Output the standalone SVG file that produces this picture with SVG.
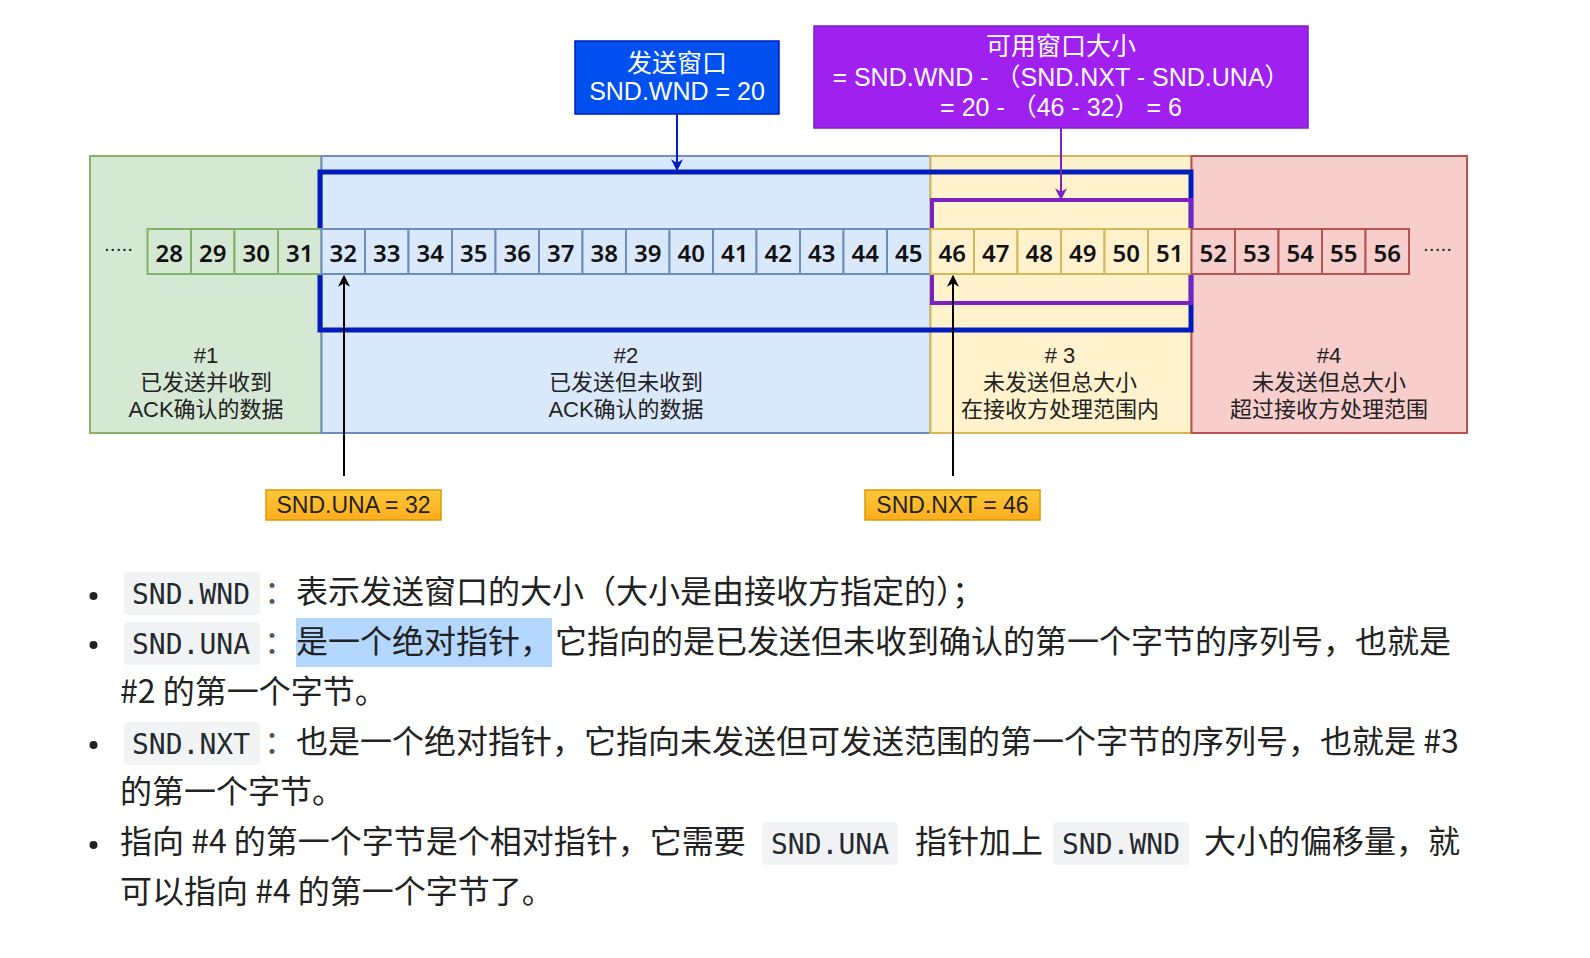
<svg xmlns="http://www.w3.org/2000/svg" width="1590" height="958" viewBox="0 0 1590 958">
<style>
.d{font-family:"Liberation Sans","Noto Sans CJK SC",sans-serif;}
.reg{font-size:22px;fill:#222;text-anchor:middle;}
.top{font-size:25px;fill:#fff;text-anchor:middle;}
.num{font-family:"Noto Sans",sans-serif;font-size:24px;font-weight:600;fill:#111;text-anchor:middle;}
.g{fill:#d5e8d4;stroke:#82b366;stroke-width:2;}
.b{fill:#dae8fc;stroke:#6c8ebf;stroke-width:2;}
.y{fill:#fff2cc;stroke:#d6b656;stroke-width:2;}
.r{fill:#f8cecc;stroke:#b85450;stroke-width:2;}
.lbl{fill:url(#og);stroke:#d79b00;stroke-width:1.5;}
.lt{font-size:23px;fill:#222;text-anchor:middle;}
.body{font-family:"Noto Sans CJK SC","Noto Sans",sans-serif;font-size:32px;fill:#222;}
.colon{font-family:"Noto Sans CJK SC",sans-serif;font-size:32px;fill:#555;}
.code{font-family:"DejaVu Sans Mono","Liberation Mono",monospace;font-size:28px;fill:#24292f;}
.chip{fill:#f2f3f5;}
.bul{fill:#222;}
.dots{font-family:"Liberation Sans",sans-serif;font-size:21px;fill:#222;}
</style>
<defs>
<linearGradient id="og" x1="0" y1="0" x2="0" y2="1"><stop offset="0" stop-color="#ffc83a"/><stop offset="1" stop-color="#ffac1c"/></linearGradient>
<marker id="ak" viewBox="0 0 10 10" refX="9" refY="5" markerWidth="6" markerHeight="6" orient="auto"><path d="M0,0 L10,5 L0,10 L3,5 z" fill="#000"/></marker>
<marker id="ab" viewBox="0 0 10 10" refX="9" refY="5" markerWidth="6" markerHeight="6" orient="auto"><path d="M0,0 L10,5 L0,10 L3,5 z" fill="#001dbc"/></marker>
<marker id="ap" viewBox="0 0 10 10" refX="9" refY="5" markerWidth="6" markerHeight="6" orient="auto"><path d="M0,0 L10,5 L0,10 L3,5 z" fill="#7a22c2"/></marker>
</defs>
<rect width="1590" height="958" fill="#fff"/>

<g id="region1" class="d"><rect class="g" x="90" y="156" width="231.5" height="277"/>
<text class="reg" x="206" y="363">#1</text><text class="reg" x="206" y="390">已发送并收到</text><text class="reg" x="206" y="417">ACK确认的数据</text></g>
<g id="region2" class="d"><rect class="b" x="321.5" y="156" width="609" height="277"/>
<text class="reg" x="626" y="363">#2</text><text class="reg" x="626" y="390">已发送但未收到</text><text class="reg" x="626" y="417">ACK确认的数据</text></g>
<g id="region3" class="d"><rect class="y" x="930.5" y="156" width="261" height="277"/>
<text class="reg" x="1060" y="363"># 3</text><text class="reg" x="1060" y="390">未发送但总大小</text><text class="reg" x="1060" y="417">在接收方处理范围内</text></g>
<g id="region4" class="d"><rect class="r" x="1191.5" y="156" width="275.5" height="277"/>
<text class="reg" x="1329" y="363">#4</text><text class="reg" x="1329" y="390">未发送但总大小</text><text class="reg" x="1329" y="417">超过接收方处理范围</text></g>

<g id="send-window"><rect x="320" y="172" width="871" height="158" fill="none" stroke="#001dbc" stroke-width="5"/></g>
<g id="usable-window"><rect x="932" y="200" width="259" height="103" fill="none" stroke="#7a22c2" stroke-width="4"/></g>

<g id="cells">
<g id="c28"><rect class="g" x="147.5" y="229" width="43.5" height="45"/><text class="num" x="169.25" y="262">28</text></g>
<g id="c29"><rect class="g" x="191" y="229" width="43.5" height="45"/><text class="num" x="212.75" y="262">29</text></g>
<g id="c30"><rect class="g" x="234.5" y="229" width="43.5" height="45"/><text class="num" x="256.25" y="262">30</text></g>
<g id="c31"><rect class="g" x="278" y="229" width="43.5" height="45"/><text class="num" x="299.75" y="262">31</text></g>
<g id="c32"><rect class="b" x="321.5" y="229" width="43.5" height="45"/><text class="num" x="343.25" y="262">32</text></g>
<g id="c33"><rect class="b" x="365" y="229" width="43.5" height="45"/><text class="num" x="386.75" y="262">33</text></g>
<g id="c34"><rect class="b" x="408.5" y="229" width="43.5" height="45"/><text class="num" x="430.25" y="262">34</text></g>
<g id="c35"><rect class="b" x="452" y="229" width="43.5" height="45"/><text class="num" x="473.75" y="262">35</text></g>
<g id="c36"><rect class="b" x="495.5" y="229" width="43.5" height="45"/><text class="num" x="517.25" y="262">36</text></g>
<g id="c37"><rect class="b" x="539" y="229" width="43.5" height="45"/><text class="num" x="560.75" y="262">37</text></g>
<g id="c38"><rect class="b" x="582.5" y="229" width="43.5" height="45"/><text class="num" x="604.25" y="262">38</text></g>
<g id="c39"><rect class="b" x="626" y="229" width="43.5" height="45"/><text class="num" x="647.75" y="262">39</text></g>
<g id="c40"><rect class="b" x="669.5" y="229" width="43.5" height="45"/><text class="num" x="691.25" y="262">40</text></g>
<g id="c41"><rect class="b" x="713" y="229" width="43.5" height="45"/><text class="num" x="734.75" y="262">41</text></g>
<g id="c42"><rect class="b" x="756.5" y="229" width="43.5" height="45"/><text class="num" x="778.25" y="262">42</text></g>
<g id="c43"><rect class="b" x="800" y="229" width="43.5" height="45"/><text class="num" x="821.75" y="262">43</text></g>
<g id="c44"><rect class="b" x="843.5" y="229" width="43.5" height="45"/><text class="num" x="865.25" y="262">44</text></g>
<g id="c45"><rect class="b" x="887" y="229" width="43.5" height="45"/><text class="num" x="908.75" y="262">45</text></g>
<g id="c46"><rect class="y" x="930.5" y="229" width="43.5" height="45"/><text class="num" x="952.25" y="262">46</text></g>
<g id="c47"><rect class="y" x="974" y="229" width="43.5" height="45"/><text class="num" x="995.75" y="262">47</text></g>
<g id="c48"><rect class="y" x="1017.5" y="229" width="43.5" height="45"/><text class="num" x="1039.25" y="262">48</text></g>
<g id="c49"><rect class="y" x="1061" y="229" width="43.5" height="45"/><text class="num" x="1082.75" y="262">49</text></g>
<g id="c50"><rect class="y" x="1104.5" y="229" width="43.5" height="45"/><text class="num" x="1126.25" y="262">50</text></g>
<g id="c51"><rect class="y" x="1148" y="229" width="43.5" height="45"/><text class="num" x="1169.75" y="262">51</text></g>
<g id="c52"><rect class="r" x="1191.5" y="229" width="43.5" height="45"/><text class="num" x="1213.25" y="262">52</text></g>
<g id="c53"><rect class="r" x="1235" y="229" width="43.5" height="45"/><text class="num" x="1256.75" y="262">53</text></g>
<g id="c54"><rect class="r" x="1278.5" y="229" width="43.5" height="45"/><text class="num" x="1300.25" y="262">54</text></g>
<g id="c55"><rect class="r" x="1322" y="229" width="43.5" height="45"/><text class="num" x="1343.75" y="262">55</text></g>
<g id="c56"><rect class="r" x="1365.5" y="229" width="43.5" height="45"/><text class="num" x="1387.25" y="262">56</text></g>
</g>
<g id="dots-left"><text class="dots" x="104" y="251">.....</text></g>
<g id="dots-right"><text class="dots" x="1423" y="251">.....</text></g>

<g id="box-wnd" class="d"><rect x="575" y="41" width="204" height="73" fill="#0050ef" stroke="#001dbc" stroke-width="1.5"/>
<text class="top" x="677" y="72">发送窗口</text><text class="top" x="677" y="100">SND.WND = 20</text></g>
<g id="box-usable" class="d"><rect x="814" y="26" width="494" height="102" fill="#a020f0" stroke="#7a22c2" stroke-width="1.5"/>
<text class="top" x="1061" y="55">可用窗口大小</text><text class="top" x="1061" y="86">= SND.WND - （SND.NXT - SND.UNA）</text><text class="top" x="1061" y="116">= 20 - （46 - 32）  = 6</text></g>
<g id="label-una" class="d"><rect class="lbl" x="266" y="490" width="175" height="30"/><text class="lt" x="353.5" y="513">SND.UNA = 32</text></g>
<g id="label-nxt" class="d"><rect class="lbl" x="865" y="490" width="175" height="30"/><text class="lt" x="952.5" y="513">SND.NXT = 46</text></g>

<g id="connectors" fill="none" stroke-width="2">
<line x1="677" y1="114" x2="677" y2="170" stroke="#001dbc" marker-end="url(#ab)"/>
<line x1="1061" y1="128" x2="1061" y2="199" stroke="#7a22c2" marker-end="url(#ap)"/>
<line x1="344" y1="476" x2="344" y2="276" stroke="#000" marker-end="url(#ak)"/>
<line x1="953" y1="476" x2="953" y2="276" stroke="#000" marker-end="url(#ak)"/>
</g>

<g id="notes">
<rect x="296" y="618" width="256" height="49" fill="#b3d7ff"/>
<rect class="chip" x="124" y="572" width="136" height="43" rx="4"/>
<rect class="chip" x="124" y="622" width="136" height="43" rx="4"/>
<rect class="chip" x="124" y="722" width="136" height="43" rx="4"/>
<rect class="chip" x="762" y="822" width="136" height="43" rx="4"/>
<rect class="chip" x="1053" y="822" width="136" height="43" rx="4"/>
<circle class="bul" cx="93.5" cy="596" r="4"/>
<circle class="bul" cx="93.5" cy="645" r="4"/>
<circle class="bul" cx="93.5" cy="745" r="4"/>
<circle class="bul" cx="93.5" cy="845" r="4"/>
<text class="code" x="132" y="604">SND.WND</text>
<text class="code" x="132" y="654">SND.UNA</text>
<text class="code" x="132" y="754">SND.NXT</text>
<text class="code" x="771" y="854">SND.UNA</text>
<text class="code" x="1062" y="854">SND.WND</text>
<text class="colon" x="264" y="603">：</text>
<text class="colon" x="264" y="653">：</text>
<text class="colon" x="264" y="753">：</text>
<text class="body" x="296" y="603">表示发送窗口的大小（大小是由接收方指定的）；</text>
<text class="body" x="296" y="653">是一个绝对指针，</text>
<text class="body" x="555" y="653">它指向的是已发送但未收到确认的第一个字节的序列号，也就是</text>
<text class="body" x="120" y="703">#2 的第一个字节。</text>
<text class="body" x="296" y="753">也是一个绝对指针，它指向未发送但可发送范围的第一个字节的序列号，也就是 #3</text>
<text class="body" x="120" y="803">的第一个字节。</text>
<text class="body" x="120" y="853">指向 #4 的第一个字节是个相对指针，它需要</text>
<text class="body" x="915" y="853">指针加上</text>
<text class="body" x="1204" y="853">大小的偏移量，就</text>
<text class="body" x="120" y="903">可以指向 #4 的第一个字节了。</text>
</g>
</svg>
